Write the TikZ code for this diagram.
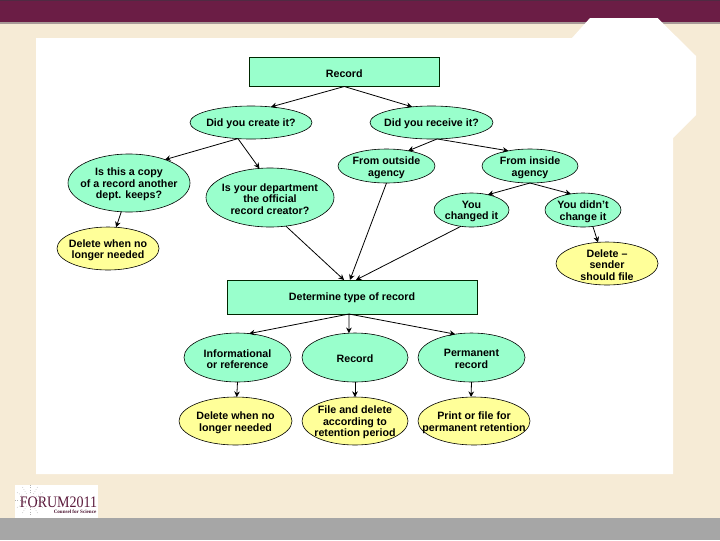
\documentclass[tikz,border=0pt]{standalone}
\usepackage{fontspec}
\setmainfont{Liberation Sans}
\newfontfamily\logofont{Liberation Serif}
\usetikzlibrary{shapes.geometric,arrows.meta}
\definecolor{boxgreen}{HTML}{99FFCC}
\definecolor{boxyellow}{HTML}{FFFF99}
\definecolor{cream}{HTML}{F6EBD6}
\definecolor{band}{HTML}{6B1D45}
\definecolor{bandtop}{HTML}{4F2A42}
\definecolor{bandline}{HTML}{A89A98}
\definecolor{foot}{HTML}{A6A6A6}
\tikzset{
  x=0.75pt,y=-0.75pt,
  lbl/.style={font=\fontsize{8}{8.6}\selectfont\bfseries,align=center,text=black,inner sep=0pt,outer sep=0pt},
  rbox/.style={draw=black!85!green,line width=0.6pt,fill=boxgreen,rectangle,inner sep=0pt,outer sep=0pt,minimum width=#1*0.75pt,label={[lbl,yshift=-0.9pt]center:\rboxtext}},
  oval/.style n args={4}{draw=black,line width=0.45pt,fill=#1,ellipse,inner sep=0pt,outer sep=0pt,
     minimum width=#2*0.75pt,minimum height=#3*0.75pt,
     label={[lbl,yshift=-1.2pt]center:#4}},
  conn/.style={draw=black,line width=0.6pt,-{Stealth[length=4.2pt,width=4.2pt]}},
  ray/.style={draw=black!30,line width=0.3pt,dash pattern=on 0.6pt off 1.2pt}
}
\begin{document}
\begin{tikzpicture}
\useasboundingbox (0,0) rectangle (720,540);
% background
\fill[cream] (0,0) rectangle (720,540);
\fill[band] (0,0) rectangle (720,22);
\fill[bandtop] (0,0) rectangle (720,1);
\fill[bandline] (0,22) rectangle (720,23.5);
\fill[foot] (0,518) rectangle (720,540);
\fill[white] (36,38) -- (572,38) -- (590,18) -- (657.5,18) -- (696,56) -- (696,115) -- (673,138) -- (673,474) -- (36,474) -- cycle;
% logo
\fill[white] (15,485) rectangle (98,518);
\foreach \a in {0,30,...,330}{
  \draw[ray] (30,500) ++(\a:7) -- ++(\a:8);
}
\node[inner sep=0pt,text=band!85!black,font=\logofont\fontsize{12}{12}\selectfont] (logo) at (58.5,502.5) {\scalebox{.875}[1]{FORUM2011}};
\node[inner sep=0pt,text=band!70!black,font=\logofont\bfseries\fontsize{3.8}{3.8}\selectfont] (logosub) at (75,511.5) {Counsel for Science};
% top
\def\rboxtext{Record}
\node[rbox=189.5,minimum height=29*0.75pt] (rec) at (344.25,72) {};
\node[oval={boxgreen}{122}{33}{Did you create it?}] (create) at (251,122.5) {};
\node[oval={boxgreen}{123}{33}{Did you receive it?}] (receive) at (431.5,122.5) {};
\node[oval={boxgreen}{122}{58}{Is this a copy\\of a record another\\dept. keeps?}] (copy) at (129,183) {};
\node[oval={boxgreen}{128}{59}{Is your department\\the official\\record creator?}] (dept) at (270,197.5) {};
\node[oval={boxyellow}{102}{43}{Delete when no\\longer needed}] (del1) at (108,248.5) {};
\node[oval={boxgreen}{97}{34}{From outside\\agency}] (outside) at (386.5,166) {};
\node[oval={boxgreen}{96}{34}{From inside\\agency}] (inside) at (530,166) {};
\node[oval={boxgreen}{75}{34}{You\\changed it}] (changed) at (471.5,210) {};
\node[oval={boxgreen}{76}{34}{You didn't\\change it}] (didnt) at (583,210) {};
\node[oval={boxyellow}{102}{43}{Delete --\\sender\\should file}] (delsend) at (607,263.5) {};
% middle
\def\rboxtext{Determine type of record}
\node[rbox=250,minimum height=34*0.75pt] (det) at (352,297) {};
\node[oval={boxgreen}{107}{49}{Informational\\or reference}] (info) at (237.5,357.5) {};
\node[oval={boxgreen}{106}{49}{Record}] (rec2) at (355,357.5) {};
\node[oval={boxgreen}{107}{49}{Permanent\\record}] (perm) at (471.5,357.5) {};
\node[oval={boxyellow}{113}{48}{Delete when no\\longer needed}] (del2) at (235.5,421) {};
\node[oval={boxyellow}{106}{48}{File and delete\\according to\\retention period}] (file) at (355,421) {};
\node[oval={boxyellow}{112}{48}{Print or file for\\permanent retention}] (print) at (474,421) {};
% connectors
\draw[conn] (rec.south) -- (create.38);
\draw[conn] (rec.south) -- (receive.141);
\draw[conn] (create.231) -- (copy.33);
\draw[conn] (create.231) -- (dept.110);
\draw[conn] (copy.255) -- (del1.69);
\draw[conn] (receive.289) -- (outside.35);
\draw[conn] (receive.289) -- (inside.145);
\draw[conn] (inside.south) -- (changed.43);
\draw[conn] (inside.south) -- (didnt.127);
\draw[conn] (didnt.301) -- (delsend.113);
\draw[conn] (dept.299) -- (det.115);
\draw[conn] (outside.south) -- (det.97);
\draw[conn] (changed.237) -- (det.77);
\draw[conn] (det.260) -- (info.64);
\draw[conn] (det.260) -- (rec2.104);
\draw[conn] (det.260) -- (perm.125);
\draw[conn] (info.south) -- (del2.87);
\draw[conn] (rec2.south) -- (file.north);
\draw[conn] (perm.south) -- (print.97);
\end{tikzpicture}
\end{document}
